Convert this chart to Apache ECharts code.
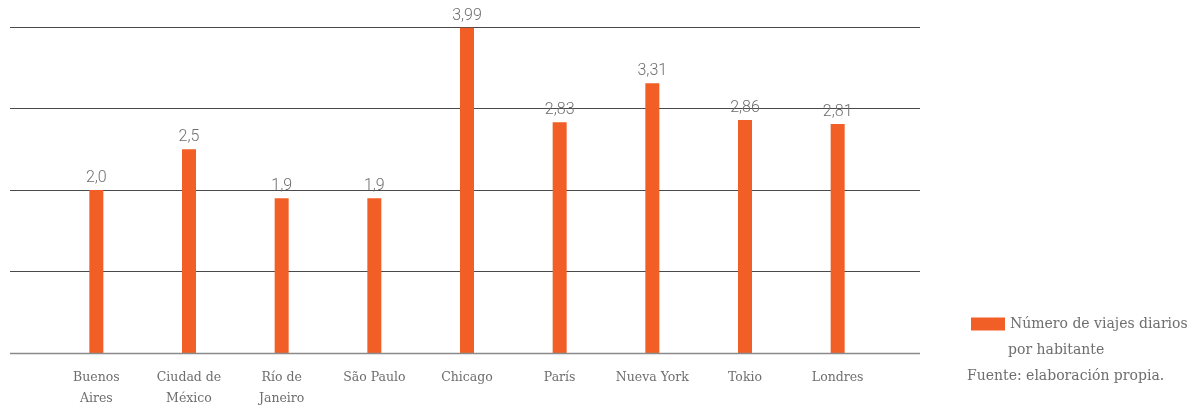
<!DOCTYPE html>
<html><head><meta charset="utf-8">
<script src="https://cdn.jsdelivr.net/npm/echarts@6/dist/echarts.min.js"></script>
<style>html,body{margin:0;padding:0;background:#fff}#c{width:1202px;height:406px}</style>
</head><body><div id="c"></div>
<script>
const categories = ["Buenos\nAires", "Ciudad de\nMéxico", "Río de\nJaneiro", "São Paulo", "Chicago", "París", "Nueva York", "Tokio", "Londres"];
const values = [2.0, 2.5, 1.9, 1.9, 3.99, 2.83, 3.31, 2.86, 2.81];
const valueLabels = ["2,0", "2,5", "1,9", "1,9", "3,99", "2,83", "3,31", "2,86", "2,81"];
const yTicks = [0, 1, 2, 3, 4];
const seriesName = "Número de viajes diarios";
const legendLine2 = "por habitante";
const sourceText = "Fuente: elaboración propia.";

const serif = "'DejaVu Serif', serif";
const chart = echarts.init(document.getElementById('c'), null, {renderer: 'canvas'});
chart.setOption({
  animation: false,
  grid: [
    {left: 10, right: 282, top: 27, bottom: 53, outerBoundsMode: 'none', containLabel: false},
    {left: 50, right: 318, top: 27, bottom: 53, outerBoundsMode: 'none', containLabel: false}
  ],
  xAxis: [
    {type: 'category', gridIndex: 0, data: categories, show: false},
    {type: 'category', gridIndex: 1, data: categories,
     axisLine: {show: false}, axisTick: {show: false},
     axisLabel: {interval: 0, color: '#6e6e6e', fontFamily: serif, fontSize: 12.5, lineHeight: 21, margin: 14}}
  ],
  yAxis: [
    {type: 'value', gridIndex: 0, min: yTicks[0], max: yTicks[yTicks.length - 1], interval: 1,
     axisLabel: {show: false}, axisLine: {show: false}, axisTick: {show: false},
     splitLine: {show: true, lineStyle: {color: '#4a4a4a', width: 1}}},
    {type: 'value', gridIndex: 1, min: yTicks[0], max: yTicks[yTicks.length - 1], interval: 1, show: false}
  ],
  legend: {
    left: 966, top: 312, itemWidth: 34, itemHeight: 13, itemGap: 6,
    icon: 'rect',
    textStyle: {color: '#6e6e6e', fontFamily: serif, fontSize: 14},
    data: [seriesName]
  },
  graphic: [
    {type: 'text', left: 1008, top: 343, style: {text: legendLine2, fill: '#6e6e6e', font: "14px 'DejaVu Serif', serif"}},
    {type: 'text', left: 967, top: 369, style: {text: sourceText, fill: '#6e6e6e', font: "14px 'DejaVu Serif', serif"}},
    {type: 'line', shape: {x1: 10, y1: 353.5, x2: 920, y2: 353.5}, style: {stroke: '#8a8a8a', lineWidth: 1.5}, z: 10}
  ],
  series: [{
    name: seriesName, type: 'bar', xAxisIndex: 1, yAxisIndex: 1,
    data: values, barWidth: 14,
    itemStyle: {color: '#F15F26'},
    label: {show: true, position: 'top', distance: 4, color: '#6e6e6e',
      fontFamily: 'Roboto', fontWeight: 300, fontSize: 16,
      formatter: p => valueLabels[p.dataIndex]}
  }]
});
</script></body></html>
